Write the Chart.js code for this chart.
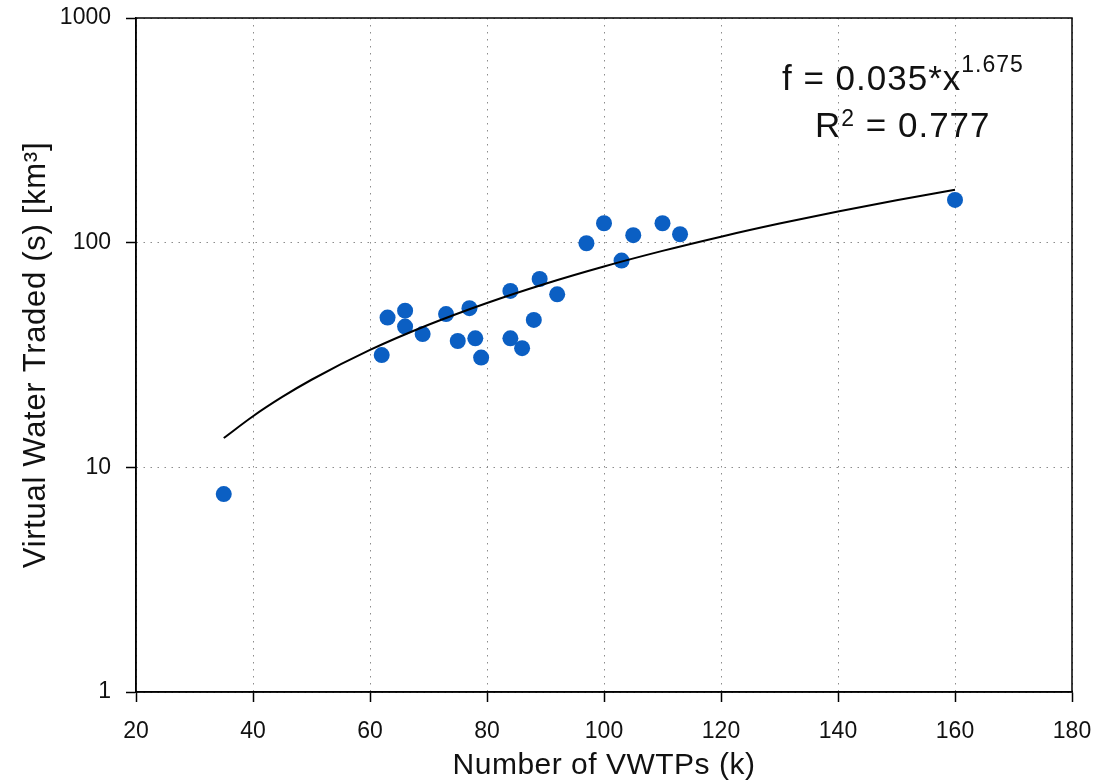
<!DOCTYPE html>
<html>
<head>
<meta charset="utf-8">
<script src="https://cdn.jsdelivr.net/npm/chart.js@4.4.1/dist/chart.umd.min.js"></script>
<style>
  html, body { margin: 0; padding: 0; background: #fff; }
  .main { width: 1100px; height: 783px; }
</style>
</head>
<body>
<div class="main"><canvas id="myChart" width="1100" height="783"></canvas></div>
<script>
// number of VWTPs (k) and virtual water traded (km3)
const vwtps = [35, 62, 63, 66, 66, 69, 73, 75, 77, 78, 79, 84, 84, 86, 88, 89, 92, 97, 100, 103, 105, 110, 113, 160];
const traded = [7.6, 31.6, 46.4, 49.8, 42.3, 39.2, 48.1, 36.5, 51.1, 37.5, 30.8, 61, 37.5, 33.9, 45.3, 68.9, 58.9, 99.4, 122, 83.2, 108, 122, 109, 155];

// power-law fit shown on the chart: f = a * x^b
const fitA = 0.035;
const fitB = 1.675;
const fitR2 = 0.777;
const fitX = [35, 40, 45, 50, 60, 70, 80, 90, 100, 110, 120, 130, 140, 150, 160];

const xTicks = [20, 40, 60, 80, 100, 120, 140, 160, 180];
const yTicks = [1, 10, 100, 1000];
const yTickLabels = ['1', '10', '100', '1000'];

const xTitle = 'Number of VWTPs (k)';
const yTitle = 'Virtual Water Traded (s) [km³]';

const FONT = '"Liberation Sans", Arial, Helvetica, sans-serif';
const ink = '#111';

const canvas = document.getElementById('myChart');

// box round the plot area
const frame = {
  id: 'frame',
  afterDraw(chart) {
    const { ctx, chartArea: a } = chart;
    ctx.save();
    ctx.strokeStyle = '#000';
    ctx.lineWidth = 1.5;
    ctx.strokeRect(a.left, a.top, a.right - a.left, a.bottom - a.top);
    ctx.restore();
  }
};

// axis titles and the fit equation (source lettering is a bit wide, hence letterSpacing)
const labels = {
  id: 'labels',
  afterDraw(chart) {
    const ctx = chart.ctx;
    const a = chart.chartArea;
    ctx.save();
    ctx.fillStyle = ink;
    ctx.textBaseline = 'alphabetic';

    // x title
    ctx.letterSpacing = '0.5px';
    ctx.font = '30px ' + FONT;
    ctx.textAlign = 'center';
    ctx.fillText(xTitle, (a.left + a.right) / 2, 774);

    // y title
    ctx.save();
    ctx.letterSpacing = '0.7px';
    ctx.font = '31px ' + FONT;
    ctx.translate(45, (a.top + a.bottom) / 2);
    ctx.rotate(-Math.PI / 2);
    ctx.fillText(yTitle, 0, 0);
    ctx.restore();

    // equation
    ctx.textAlign = 'left';
    ctx.letterSpacing = '1px';
    const line1 = 'f = ' + fitA + '*x';
    ctx.font = '35px ' + FONT;
    ctx.fillText(line1, 782, 90);
    const w1 = ctx.measureText(line1).width;
    ctx.font = '23px ' + FONT;
    ctx.fillText(String(fitB), 782 + w1, 72);

    ctx.font = '35px ' + FONT;
    ctx.fillText('R', 815, 137);
    const wR = ctx.measureText('R').width;
    ctx.font = '23px ' + FONT;
    ctx.fillText('2', 815 + wR, 126);
    const w2 = ctx.measureText('2').width;
    ctx.font = '35px ' + FONT;
    ctx.fillText(' = ' + fitR2, 815 + wR + w2, 137);
    ctx.restore();
  }
};

new Chart(canvas, {
  type: 'scatter',
  data: {
    datasets: [
      {
        label: 'fit',
        data: fitX.map((x) => ({ x: x, y: fitA * Math.pow(x, fitB) })),
        showLine: true,
        borderColor: '#000',
        borderWidth: 2,
        pointRadius: 0,
        cubicInterpolationMode: 'monotone',
        order: 0,
      },
      {
        label: 'data',
        data: vwtps.map((x, i) => ({ x: x, y: traded[i] })),
        pointRadius: 8,
        pointBackgroundColor: '#0b5fc3',
        pointBorderWidth: 0,
        order: 1,
      },
    ],
  },
  options: {
    responsive: false,
    animation: false,
    layout: { padding: { top: 18, right: 28, left: 0, bottom: 0 } },
    plugins: { legend: { display: false }, tooltip: { enabled: false } },
    scales: {
      x: {
        type: 'linear',
        min: 20,
        max: 180,
        afterBuildTicks: (s) => { s.ticks = xTicks.map((v) => ({ value: v })); },
        afterFit: (s) => { s.height = 91; s.paddingLeft = 0; s.paddingRight = 0; },
        ticks: {
          font: { family: FONT, size: 23 },
          color: ink,
          padding: 16,
          maxRotation: 0,
          callback: (v) => String(v),
        },
        grid: { color: '#8c8c8c', lineWidth: 1, tickColor: '#000', tickLength: 10, tickWidth: 1.5, tickBorderDash: [] },
        border: { color: '#000', width: 1.5, dash: [1.5, 5.5] },
      },
      y: {
        type: 'logarithmic',
        min: 1,
        max: 1000,
        afterBuildTicks: (s) => { s.ticks = yTicks.map((v) => ({ value: v })); },
        afterFit: (s) => { s.width = 136; s.paddingTop = 0; s.paddingBottom = 0; },
        ticks: {
          font: { family: FONT, size: 23 },
          color: ink,
          padding: 15,
          callback: (v, i) => yTickLabels[i],
        },
        grid: { color: '#8c8c8c', lineWidth: 1, tickColor: '#000', tickLength: 10, tickWidth: 1.5, tickBorderDash: [] },
        border: { color: '#000', width: 1.5, dash: [1.5, 5.5] },
      },
    },
  },
  plugins: [frame, labels],
});
</script>
</body>
</html>
